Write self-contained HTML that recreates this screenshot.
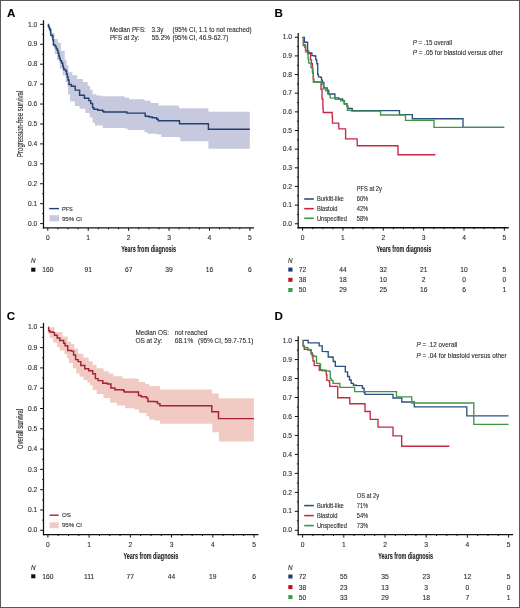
<!DOCTYPE html>
<html><head><meta charset="utf-8"><title>Kaplan-Meier curves</title>
<style>
html,body{margin:0;padding:0;background:#fff;}
body{width:520px;height:608px;position:relative;overflow:hidden;font-family:"Liberation Sans", sans-serif;}
</style></head><body>
<svg width="520" height="608" viewBox="0 0 520 608" font-family='"Liberation Sans", sans-serif' style="position:absolute;left:0;top:0;will-change:transform">
<style>text{stroke:#2a2a2a;stroke-width:0.1px;}</style>
<rect x="0" y="0" width="520" height="608" fill="#fff"/>
<text x="7.00" y="16.90" font-size="11.6" text-anchor="start" fill="#000" font-weight="bold" font-style="normal">A</text>
<text x="274.40" y="16.80" font-size="11.6" text-anchor="start" fill="#000" font-weight="bold" font-style="normal">B</text>
<text x="6.80" y="319.80" font-size="11.6" text-anchor="start" fill="#000" font-weight="bold" font-style="normal">C</text>
<text x="274.40" y="319.90" font-size="11.6" text-anchor="start" fill="#000" font-weight="bold" font-style="normal">D</text>
<polygon points="47.8,24.4 50.0,24.4 50.0,28.0 52.0,28.0 52.0,33.0 54.6,33.0 54.6,39.0 57.8,39.0 57.8,42.8 60.9,42.8 60.9,50.7 64.7,50.7 64.7,59.8 66.6,59.8 66.6,65.6 68.5,65.6 68.5,72.3 72.3,72.3 72.3,75.2 77.2,75.2 77.2,79.1 82.9,79.1 82.9,82.0 87.7,82.0 87.7,85.8 90.1,85.8 90.1,89.7 92.5,89.7 92.5,94.3 96.4,94.3 96.4,95.4 101.7,95.4 101.7,96.3 124.5,96.3 124.5,97.4 129.1,97.4 129.1,99.2 144.5,99.2 144.5,100.8 150.6,100.8 150.6,103.1 158.5,103.1 158.5,105.4 178.0,105.4 178.0,106.0 179.2,106.0 179.2,108.2 208.4,108.2 208.4,111.8 249.8,111.8 249.8,148.8 208.4,148.8 208.4,141.2 180.4,141.2 180.4,137.7 179.2,137.7 179.2,136.9 161.4,136.9 161.4,134.6 156.8,134.6 156.8,133.8 147.5,133.8 147.5,132.3 144.5,132.3 144.5,130.0 127.5,130.0 127.5,128.5 124.5,128.5 124.5,128.0 102.7,128.0 102.7,125.6 95.0,125.6 95.0,122.7 92.6,122.7 92.6,117.4 89.7,117.4 89.7,113.1 85.4,113.1 85.4,108.8 79.6,108.8 79.6,105.9 74.8,105.9 74.8,101.5 70.0,101.5 70.0,94.5 68.0,94.5 68.0,86.8 67.5,86.8 67.5,82.0 65.6,82.0 65.6,75.2 62.7,75.2 62.7,68.5 59.8,68.5 59.8,59.8 57.0,59.8 57.0,53.9 54.6,53.9 54.6,45.4 52.5,45.4 52.5,38.0 50.9,38.0 50.9,31.0 49.0,31.0 49.0,26.0 47.8,26.0" fill="#c7c9df"/>
<polygon points="48.2,327.3 54.5,327.3 54.5,332.0 62.4,332.0 62.4,336.6 67.7,336.6 67.7,341.8 71.0,341.8 71.0,343.8 74.3,343.8 74.3,348.4 78.2,348.4 78.2,353.7 83.5,353.7 83.5,357.6 88.7,357.6 88.7,361.3 92.7,361.3 92.7,365.0 96.6,365.0 96.6,368.2 103.5,368.2 103.5,371.2 108.8,371.2 108.8,373.5 113.6,373.5 113.6,376.2 122.3,376.2 122.3,378.4 137.8,378.4 137.8,379.3 139.1,379.3 139.1,382.0 145.2,382.0 145.2,384.0 149.2,384.0 149.2,386.0 159.9,386.0 159.9,389.5 211.6,389.5 211.6,390.3 212.3,390.3 212.3,393.5 218.1,393.5 218.1,394.6 218.8,394.6 218.8,398.2 253.9,398.2 253.9,441.6 219.1,441.6 218.8,432.2 212.3,432.2 212.3,423.7 211.6,423.7 159.9,423.7 159.9,420.5 154.1,420.5 154.1,419.6 149.2,419.6 149.2,416.2 146.5,416.2 146.5,412.9 139.1,412.9 139.1,409.5 134.4,409.5 134.4,408.2 125.0,408.2 125.0,405.5 116.9,405.5 116.9,402.8 110.2,402.8 110.2,398.1 103.5,398.1 103.5,394.0 96.7,394.0 96.7,390.0 92.7,390.0 92.7,385.5 90.0,385.5 90.0,382.5 87.4,382.5 87.4,380.0 83.5,380.0 83.5,376.7 79.5,376.7 79.5,373.4 76.2,373.4 76.2,368.2 72.9,368.2 72.9,362.9 69.0,362.9 69.0,358.3 67.0,358.3 67.0,354.3 64.4,354.3 64.4,350.4 59.8,350.4 59.8,347.1 57.2,347.1 57.2,342.5 53.2,342.5 53.2,337.9 49.9,337.9 49.9,334.0 48.4,334.0" fill="#f1cbc3"/>
<line x1="43.5" y1="20.2" x2="43.5" y2="228.5" stroke="#111" stroke-width="1.25"/>
<line x1="42.9" y1="227.8" x2="254.0" y2="227.8" stroke="#111" stroke-width="1.35"/>
<line x1="40.1" y1="223.60" x2="43.5" y2="223.60" stroke="#111" stroke-width="1"/>
<text x="37.30" y="225.75" font-size="6.7" text-anchor="end" fill="#2a2a2a" font-weight="normal" font-style="normal">0.0</text>
<line x1="42.2" y1="213.64" x2="43.5" y2="213.64" stroke="#111" stroke-width="1"/>
<line x1="40.1" y1="203.67" x2="43.5" y2="203.67" stroke="#111" stroke-width="1"/>
<text x="37.30" y="205.82" font-size="6.7" text-anchor="end" fill="#2a2a2a" font-weight="normal" font-style="normal">0.1</text>
<line x1="42.2" y1="193.71" x2="43.5" y2="193.71" stroke="#111" stroke-width="1"/>
<line x1="40.1" y1="183.75" x2="43.5" y2="183.75" stroke="#111" stroke-width="1"/>
<text x="37.30" y="185.90" font-size="6.7" text-anchor="end" fill="#2a2a2a" font-weight="normal" font-style="normal">0.2</text>
<line x1="42.2" y1="173.79" x2="43.5" y2="173.79" stroke="#111" stroke-width="1"/>
<line x1="40.1" y1="163.82" x2="43.5" y2="163.82" stroke="#111" stroke-width="1"/>
<text x="37.30" y="165.97" font-size="6.7" text-anchor="end" fill="#2a2a2a" font-weight="normal" font-style="normal">0.3</text>
<line x1="42.2" y1="153.86" x2="43.5" y2="153.86" stroke="#111" stroke-width="1"/>
<line x1="40.1" y1="143.90" x2="43.5" y2="143.90" stroke="#111" stroke-width="1"/>
<text x="37.30" y="146.05" font-size="6.7" text-anchor="end" fill="#2a2a2a" font-weight="normal" font-style="normal">0.4</text>
<line x1="42.2" y1="133.94" x2="43.5" y2="133.94" stroke="#111" stroke-width="1"/>
<line x1="40.1" y1="123.97" x2="43.5" y2="123.97" stroke="#111" stroke-width="1"/>
<text x="37.30" y="126.12" font-size="6.7" text-anchor="end" fill="#2a2a2a" font-weight="normal" font-style="normal">0.5</text>
<line x1="42.2" y1="114.01" x2="43.5" y2="114.01" stroke="#111" stroke-width="1"/>
<line x1="40.1" y1="104.05" x2="43.5" y2="104.05" stroke="#111" stroke-width="1"/>
<text x="37.30" y="106.20" font-size="6.7" text-anchor="end" fill="#2a2a2a" font-weight="normal" font-style="normal">0.6</text>
<line x1="42.2" y1="94.09" x2="43.5" y2="94.09" stroke="#111" stroke-width="1"/>
<line x1="40.1" y1="84.12" x2="43.5" y2="84.12" stroke="#111" stroke-width="1"/>
<text x="37.30" y="86.27" font-size="6.7" text-anchor="end" fill="#2a2a2a" font-weight="normal" font-style="normal">0.7</text>
<line x1="42.2" y1="74.16" x2="43.5" y2="74.16" stroke="#111" stroke-width="1"/>
<line x1="40.1" y1="64.20" x2="43.5" y2="64.20" stroke="#111" stroke-width="1"/>
<text x="37.30" y="66.35" font-size="6.7" text-anchor="end" fill="#2a2a2a" font-weight="normal" font-style="normal">0.8</text>
<line x1="42.2" y1="54.24" x2="43.5" y2="54.24" stroke="#111" stroke-width="1"/>
<line x1="40.1" y1="44.27" x2="43.5" y2="44.27" stroke="#111" stroke-width="1"/>
<text x="37.30" y="46.42" font-size="6.7" text-anchor="end" fill="#2a2a2a" font-weight="normal" font-style="normal">0.9</text>
<line x1="42.2" y1="34.31" x2="43.5" y2="34.31" stroke="#111" stroke-width="1"/>
<line x1="40.1" y1="24.35" x2="43.5" y2="24.35" stroke="#111" stroke-width="1"/>
<text x="37.30" y="26.50" font-size="6.7" text-anchor="end" fill="#2a2a2a" font-weight="normal" font-style="normal">1.0</text>
<line x1="47.80" y1="227.8" x2="47.80" y2="230.8" stroke="#111" stroke-width="1"/>
<text x="47.80" y="240.10" font-size="6.7" text-anchor="middle" fill="#2a2a2a" font-weight="normal" font-style="normal">0</text>
<line x1="57.91" y1="227.8" x2="57.91" y2="229.3" stroke="#111" stroke-width="1"/>
<line x1="68.01" y1="227.8" x2="68.01" y2="229.3" stroke="#111" stroke-width="1"/>
<line x1="78.11" y1="227.8" x2="78.11" y2="229.3" stroke="#111" stroke-width="1"/>
<line x1="88.22" y1="227.8" x2="88.22" y2="230.8" stroke="#111" stroke-width="1"/>
<text x="88.22" y="240.10" font-size="6.7" text-anchor="middle" fill="#2a2a2a" font-weight="normal" font-style="normal">1</text>
<line x1="98.33" y1="227.8" x2="98.33" y2="229.3" stroke="#111" stroke-width="1"/>
<line x1="108.43" y1="227.8" x2="108.43" y2="229.3" stroke="#111" stroke-width="1"/>
<line x1="118.53" y1="227.8" x2="118.53" y2="229.3" stroke="#111" stroke-width="1"/>
<line x1="128.64" y1="227.8" x2="128.64" y2="230.8" stroke="#111" stroke-width="1"/>
<text x="128.64" y="240.10" font-size="6.7" text-anchor="middle" fill="#2a2a2a" font-weight="normal" font-style="normal">2</text>
<line x1="138.75" y1="227.8" x2="138.75" y2="229.3" stroke="#111" stroke-width="1"/>
<line x1="148.85" y1="227.8" x2="148.85" y2="229.3" stroke="#111" stroke-width="1"/>
<line x1="158.95" y1="227.8" x2="158.95" y2="229.3" stroke="#111" stroke-width="1"/>
<line x1="169.06" y1="227.8" x2="169.06" y2="230.8" stroke="#111" stroke-width="1"/>
<text x="169.06" y="240.10" font-size="6.7" text-anchor="middle" fill="#2a2a2a" font-weight="normal" font-style="normal">3</text>
<line x1="179.17" y1="227.8" x2="179.17" y2="229.3" stroke="#111" stroke-width="1"/>
<line x1="189.27" y1="227.8" x2="189.27" y2="229.3" stroke="#111" stroke-width="1"/>
<line x1="199.38" y1="227.8" x2="199.38" y2="229.3" stroke="#111" stroke-width="1"/>
<line x1="209.48" y1="227.8" x2="209.48" y2="230.8" stroke="#111" stroke-width="1"/>
<text x="209.48" y="240.10" font-size="6.7" text-anchor="middle" fill="#2a2a2a" font-weight="normal" font-style="normal">4</text>
<line x1="219.58" y1="227.8" x2="219.58" y2="229.3" stroke="#111" stroke-width="1"/>
<line x1="229.69" y1="227.8" x2="229.69" y2="229.3" stroke="#111" stroke-width="1"/>
<line x1="239.80" y1="227.8" x2="239.80" y2="229.3" stroke="#111" stroke-width="1"/>
<line x1="249.90" y1="227.8" x2="249.90" y2="230.8" stroke="#111" stroke-width="1"/>
<text x="249.90" y="240.10" font-size="6.7" text-anchor="middle" fill="#2a2a2a" font-weight="normal" font-style="normal">5</text>
<line x1="298.2" y1="33.0" x2="298.2" y2="228.39999999999998" stroke="#111" stroke-width="1.25"/>
<line x1="297.59999999999997" y1="227.7" x2="508.7" y2="227.7" stroke="#111" stroke-width="1.35"/>
<line x1="294.8" y1="223.75" x2="298.2" y2="223.75" stroke="#111" stroke-width="1"/>
<text x="292.10" y="225.90" font-size="6.7" text-anchor="end" fill="#2a2a2a" font-weight="normal" font-style="normal">0.0</text>
<line x1="296.9" y1="214.43" x2="298.2" y2="214.43" stroke="#111" stroke-width="1"/>
<line x1="294.8" y1="205.10" x2="298.2" y2="205.10" stroke="#111" stroke-width="1"/>
<text x="292.10" y="207.25" font-size="6.7" text-anchor="end" fill="#2a2a2a" font-weight="normal" font-style="normal">0.1</text>
<line x1="296.9" y1="195.78" x2="298.2" y2="195.78" stroke="#111" stroke-width="1"/>
<line x1="294.8" y1="186.45" x2="298.2" y2="186.45" stroke="#111" stroke-width="1"/>
<text x="292.10" y="188.60" font-size="6.7" text-anchor="end" fill="#2a2a2a" font-weight="normal" font-style="normal">0.2</text>
<line x1="296.9" y1="177.12" x2="298.2" y2="177.12" stroke="#111" stroke-width="1"/>
<line x1="294.8" y1="167.80" x2="298.2" y2="167.80" stroke="#111" stroke-width="1"/>
<text x="292.10" y="169.95" font-size="6.7" text-anchor="end" fill="#2a2a2a" font-weight="normal" font-style="normal">0.3</text>
<line x1="296.9" y1="158.47" x2="298.2" y2="158.47" stroke="#111" stroke-width="1"/>
<line x1="294.8" y1="149.15" x2="298.2" y2="149.15" stroke="#111" stroke-width="1"/>
<text x="292.10" y="151.30" font-size="6.7" text-anchor="end" fill="#2a2a2a" font-weight="normal" font-style="normal">0.4</text>
<line x1="296.9" y1="139.82" x2="298.2" y2="139.82" stroke="#111" stroke-width="1"/>
<line x1="294.8" y1="130.50" x2="298.2" y2="130.50" stroke="#111" stroke-width="1"/>
<text x="292.10" y="132.65" font-size="6.7" text-anchor="end" fill="#2a2a2a" font-weight="normal" font-style="normal">0.5</text>
<line x1="296.9" y1="121.17" x2="298.2" y2="121.17" stroke="#111" stroke-width="1"/>
<line x1="294.8" y1="111.85" x2="298.2" y2="111.85" stroke="#111" stroke-width="1"/>
<text x="292.10" y="114.00" font-size="6.7" text-anchor="end" fill="#2a2a2a" font-weight="normal" font-style="normal">0.6</text>
<line x1="296.9" y1="102.52" x2="298.2" y2="102.52" stroke="#111" stroke-width="1"/>
<line x1="294.8" y1="93.20" x2="298.2" y2="93.20" stroke="#111" stroke-width="1"/>
<text x="292.10" y="95.35" font-size="6.7" text-anchor="end" fill="#2a2a2a" font-weight="normal" font-style="normal">0.7</text>
<line x1="296.9" y1="83.88" x2="298.2" y2="83.88" stroke="#111" stroke-width="1"/>
<line x1="294.8" y1="74.55" x2="298.2" y2="74.55" stroke="#111" stroke-width="1"/>
<text x="292.10" y="76.70" font-size="6.7" text-anchor="end" fill="#2a2a2a" font-weight="normal" font-style="normal">0.8</text>
<line x1="296.9" y1="65.22" x2="298.2" y2="65.22" stroke="#111" stroke-width="1"/>
<line x1="294.8" y1="55.90" x2="298.2" y2="55.90" stroke="#111" stroke-width="1"/>
<text x="292.10" y="58.05" font-size="6.7" text-anchor="end" fill="#2a2a2a" font-weight="normal" font-style="normal">0.9</text>
<line x1="296.9" y1="46.57" x2="298.2" y2="46.57" stroke="#111" stroke-width="1"/>
<line x1="294.8" y1="37.25" x2="298.2" y2="37.25" stroke="#111" stroke-width="1"/>
<text x="292.10" y="39.40" font-size="6.7" text-anchor="end" fill="#2a2a2a" font-weight="normal" font-style="normal">1.0</text>
<line x1="302.60" y1="227.7" x2="302.60" y2="230.7" stroke="#111" stroke-width="1"/>
<text x="302.60" y="240.00" font-size="6.7" text-anchor="middle" fill="#2a2a2a" font-weight="normal" font-style="normal">0</text>
<line x1="312.69" y1="227.7" x2="312.69" y2="229.2" stroke="#111" stroke-width="1"/>
<line x1="322.78" y1="227.7" x2="322.78" y2="229.2" stroke="#111" stroke-width="1"/>
<line x1="332.86" y1="227.7" x2="332.86" y2="229.2" stroke="#111" stroke-width="1"/>
<line x1="342.95" y1="227.7" x2="342.95" y2="230.7" stroke="#111" stroke-width="1"/>
<text x="342.95" y="240.00" font-size="6.7" text-anchor="middle" fill="#2a2a2a" font-weight="normal" font-style="normal">1</text>
<line x1="353.04" y1="227.7" x2="353.04" y2="229.2" stroke="#111" stroke-width="1"/>
<line x1="363.12" y1="227.7" x2="363.12" y2="229.2" stroke="#111" stroke-width="1"/>
<line x1="373.21" y1="227.7" x2="373.21" y2="229.2" stroke="#111" stroke-width="1"/>
<line x1="383.30" y1="227.7" x2="383.30" y2="230.7" stroke="#111" stroke-width="1"/>
<text x="383.30" y="240.00" font-size="6.7" text-anchor="middle" fill="#2a2a2a" font-weight="normal" font-style="normal">2</text>
<line x1="393.39" y1="227.7" x2="393.39" y2="229.2" stroke="#111" stroke-width="1"/>
<line x1="403.48" y1="227.7" x2="403.48" y2="229.2" stroke="#111" stroke-width="1"/>
<line x1="413.56" y1="227.7" x2="413.56" y2="229.2" stroke="#111" stroke-width="1"/>
<line x1="423.65" y1="227.7" x2="423.65" y2="230.7" stroke="#111" stroke-width="1"/>
<text x="423.65" y="240.00" font-size="6.7" text-anchor="middle" fill="#2a2a2a" font-weight="normal" font-style="normal">3</text>
<line x1="433.74" y1="227.7" x2="433.74" y2="229.2" stroke="#111" stroke-width="1"/>
<line x1="443.83" y1="227.7" x2="443.83" y2="229.2" stroke="#111" stroke-width="1"/>
<line x1="453.91" y1="227.7" x2="453.91" y2="229.2" stroke="#111" stroke-width="1"/>
<line x1="464.00" y1="227.7" x2="464.00" y2="230.7" stroke="#111" stroke-width="1"/>
<text x="464.00" y="240.00" font-size="6.7" text-anchor="middle" fill="#2a2a2a" font-weight="normal" font-style="normal">4</text>
<line x1="474.09" y1="227.7" x2="474.09" y2="229.2" stroke="#111" stroke-width="1"/>
<line x1="484.18" y1="227.7" x2="484.18" y2="229.2" stroke="#111" stroke-width="1"/>
<line x1="494.26" y1="227.7" x2="494.26" y2="229.2" stroke="#111" stroke-width="1"/>
<line x1="504.35" y1="227.7" x2="504.35" y2="230.7" stroke="#111" stroke-width="1"/>
<text x="504.35" y="240.00" font-size="6.7" text-anchor="middle" fill="#2a2a2a" font-weight="normal" font-style="normal">5</text>
<line x1="43.5" y1="322.8" x2="43.5" y2="535.25" stroke="#111" stroke-width="1.25"/>
<line x1="42.9" y1="534.55" x2="258.5" y2="534.55" stroke="#111" stroke-width="1.35"/>
<line x1="40.1" y1="530.30" x2="43.5" y2="530.30" stroke="#111" stroke-width="1"/>
<text x="37.30" y="532.45" font-size="6.7" text-anchor="end" fill="#2a2a2a" font-weight="normal" font-style="normal">0.0</text>
<line x1="42.2" y1="520.15" x2="43.5" y2="520.15" stroke="#111" stroke-width="1"/>
<line x1="40.1" y1="510.00" x2="43.5" y2="510.00" stroke="#111" stroke-width="1"/>
<text x="37.30" y="512.15" font-size="6.7" text-anchor="end" fill="#2a2a2a" font-weight="normal" font-style="normal">0.1</text>
<line x1="42.2" y1="499.85" x2="43.5" y2="499.85" stroke="#111" stroke-width="1"/>
<line x1="40.1" y1="489.70" x2="43.5" y2="489.70" stroke="#111" stroke-width="1"/>
<text x="37.30" y="491.85" font-size="6.7" text-anchor="end" fill="#2a2a2a" font-weight="normal" font-style="normal">0.2</text>
<line x1="42.2" y1="479.55" x2="43.5" y2="479.55" stroke="#111" stroke-width="1"/>
<line x1="40.1" y1="469.40" x2="43.5" y2="469.40" stroke="#111" stroke-width="1"/>
<text x="37.30" y="471.55" font-size="6.7" text-anchor="end" fill="#2a2a2a" font-weight="normal" font-style="normal">0.3</text>
<line x1="42.2" y1="459.25" x2="43.5" y2="459.25" stroke="#111" stroke-width="1"/>
<line x1="40.1" y1="449.10" x2="43.5" y2="449.10" stroke="#111" stroke-width="1"/>
<text x="37.30" y="451.25" font-size="6.7" text-anchor="end" fill="#2a2a2a" font-weight="normal" font-style="normal">0.4</text>
<line x1="42.2" y1="438.95" x2="43.5" y2="438.95" stroke="#111" stroke-width="1"/>
<line x1="40.1" y1="428.80" x2="43.5" y2="428.80" stroke="#111" stroke-width="1"/>
<text x="37.30" y="430.95" font-size="6.7" text-anchor="end" fill="#2a2a2a" font-weight="normal" font-style="normal">0.5</text>
<line x1="42.2" y1="418.65" x2="43.5" y2="418.65" stroke="#111" stroke-width="1"/>
<line x1="40.1" y1="408.50" x2="43.5" y2="408.50" stroke="#111" stroke-width="1"/>
<text x="37.30" y="410.65" font-size="6.7" text-anchor="end" fill="#2a2a2a" font-weight="normal" font-style="normal">0.6</text>
<line x1="42.2" y1="398.35" x2="43.5" y2="398.35" stroke="#111" stroke-width="1"/>
<line x1="40.1" y1="388.20" x2="43.5" y2="388.20" stroke="#111" stroke-width="1"/>
<text x="37.30" y="390.35" font-size="6.7" text-anchor="end" fill="#2a2a2a" font-weight="normal" font-style="normal">0.7</text>
<line x1="42.2" y1="378.05" x2="43.5" y2="378.05" stroke="#111" stroke-width="1"/>
<line x1="40.1" y1="367.90" x2="43.5" y2="367.90" stroke="#111" stroke-width="1"/>
<text x="37.30" y="370.05" font-size="6.7" text-anchor="end" fill="#2a2a2a" font-weight="normal" font-style="normal">0.8</text>
<line x1="42.2" y1="357.75" x2="43.5" y2="357.75" stroke="#111" stroke-width="1"/>
<line x1="40.1" y1="347.60" x2="43.5" y2="347.60" stroke="#111" stroke-width="1"/>
<text x="37.30" y="349.75" font-size="6.7" text-anchor="end" fill="#2a2a2a" font-weight="normal" font-style="normal">0.9</text>
<line x1="42.2" y1="337.45" x2="43.5" y2="337.45" stroke="#111" stroke-width="1"/>
<line x1="40.1" y1="327.30" x2="43.5" y2="327.30" stroke="#111" stroke-width="1"/>
<text x="37.30" y="329.45" font-size="6.7" text-anchor="end" fill="#2a2a2a" font-weight="normal" font-style="normal">1.0</text>
<line x1="47.90" y1="534.55" x2="47.90" y2="537.55" stroke="#111" stroke-width="1"/>
<text x="47.90" y="546.80" font-size="6.7" text-anchor="middle" fill="#2a2a2a" font-weight="normal" font-style="normal">0</text>
<line x1="58.20" y1="534.55" x2="58.20" y2="536.05" stroke="#111" stroke-width="1"/>
<line x1="68.51" y1="534.55" x2="68.51" y2="536.05" stroke="#111" stroke-width="1"/>
<line x1="78.81" y1="534.55" x2="78.81" y2="536.05" stroke="#111" stroke-width="1"/>
<line x1="89.12" y1="534.55" x2="89.12" y2="537.55" stroke="#111" stroke-width="1"/>
<text x="89.12" y="546.80" font-size="6.7" text-anchor="middle" fill="#2a2a2a" font-weight="normal" font-style="normal">1</text>
<line x1="99.42" y1="534.55" x2="99.42" y2="536.05" stroke="#111" stroke-width="1"/>
<line x1="109.73" y1="534.55" x2="109.73" y2="536.05" stroke="#111" stroke-width="1"/>
<line x1="120.03" y1="534.55" x2="120.03" y2="536.05" stroke="#111" stroke-width="1"/>
<line x1="130.34" y1="534.55" x2="130.34" y2="537.55" stroke="#111" stroke-width="1"/>
<text x="130.34" y="546.80" font-size="6.7" text-anchor="middle" fill="#2a2a2a" font-weight="normal" font-style="normal">2</text>
<line x1="140.65" y1="534.55" x2="140.65" y2="536.05" stroke="#111" stroke-width="1"/>
<line x1="150.95" y1="534.55" x2="150.95" y2="536.05" stroke="#111" stroke-width="1"/>
<line x1="161.25" y1="534.55" x2="161.25" y2="536.05" stroke="#111" stroke-width="1"/>
<line x1="171.56" y1="534.55" x2="171.56" y2="537.55" stroke="#111" stroke-width="1"/>
<text x="171.56" y="546.80" font-size="6.7" text-anchor="middle" fill="#2a2a2a" font-weight="normal" font-style="normal">3</text>
<line x1="181.87" y1="534.55" x2="181.87" y2="536.05" stroke="#111" stroke-width="1"/>
<line x1="192.17" y1="534.55" x2="192.17" y2="536.05" stroke="#111" stroke-width="1"/>
<line x1="202.47" y1="534.55" x2="202.47" y2="536.05" stroke="#111" stroke-width="1"/>
<line x1="212.78" y1="534.55" x2="212.78" y2="537.55" stroke="#111" stroke-width="1"/>
<text x="212.78" y="546.80" font-size="6.7" text-anchor="middle" fill="#2a2a2a" font-weight="normal" font-style="normal">4</text>
<line x1="223.09" y1="534.55" x2="223.09" y2="536.05" stroke="#111" stroke-width="1"/>
<line x1="233.39" y1="534.55" x2="233.39" y2="536.05" stroke="#111" stroke-width="1"/>
<line x1="243.69" y1="534.55" x2="243.69" y2="536.05" stroke="#111" stroke-width="1"/>
<line x1="254.00" y1="534.55" x2="254.00" y2="537.55" stroke="#111" stroke-width="1"/>
<text x="254.00" y="546.80" font-size="6.7" text-anchor="middle" fill="#2a2a2a" font-weight="normal" font-style="normal">5</text>
<line x1="298.2" y1="336.3" x2="298.2" y2="535.3000000000001" stroke="#111" stroke-width="1.25"/>
<line x1="297.59999999999997" y1="534.6" x2="513.1" y2="534.6" stroke="#111" stroke-width="1.35"/>
<line x1="294.8" y1="530.30" x2="298.2" y2="530.30" stroke="#111" stroke-width="1"/>
<text x="292.10" y="532.45" font-size="6.7" text-anchor="end" fill="#2a2a2a" font-weight="normal" font-style="normal">0.0</text>
<line x1="296.9" y1="520.81" x2="298.2" y2="520.81" stroke="#111" stroke-width="1"/>
<line x1="294.8" y1="511.33" x2="298.2" y2="511.33" stroke="#111" stroke-width="1"/>
<text x="292.10" y="513.48" font-size="6.7" text-anchor="end" fill="#2a2a2a" font-weight="normal" font-style="normal">0.1</text>
<line x1="296.9" y1="501.84" x2="298.2" y2="501.84" stroke="#111" stroke-width="1"/>
<line x1="294.8" y1="492.36" x2="298.2" y2="492.36" stroke="#111" stroke-width="1"/>
<text x="292.10" y="494.51" font-size="6.7" text-anchor="end" fill="#2a2a2a" font-weight="normal" font-style="normal">0.2</text>
<line x1="296.9" y1="482.87" x2="298.2" y2="482.87" stroke="#111" stroke-width="1"/>
<line x1="294.8" y1="473.39" x2="298.2" y2="473.39" stroke="#111" stroke-width="1"/>
<text x="292.10" y="475.54" font-size="6.7" text-anchor="end" fill="#2a2a2a" font-weight="normal" font-style="normal">0.3</text>
<line x1="296.9" y1="463.90" x2="298.2" y2="463.90" stroke="#111" stroke-width="1"/>
<line x1="294.8" y1="454.42" x2="298.2" y2="454.42" stroke="#111" stroke-width="1"/>
<text x="292.10" y="456.57" font-size="6.7" text-anchor="end" fill="#2a2a2a" font-weight="normal" font-style="normal">0.4</text>
<line x1="296.9" y1="444.93" x2="298.2" y2="444.93" stroke="#111" stroke-width="1"/>
<line x1="294.8" y1="435.45" x2="298.2" y2="435.45" stroke="#111" stroke-width="1"/>
<text x="292.10" y="437.60" font-size="6.7" text-anchor="end" fill="#2a2a2a" font-weight="normal" font-style="normal">0.5</text>
<line x1="296.9" y1="425.96" x2="298.2" y2="425.96" stroke="#111" stroke-width="1"/>
<line x1="294.8" y1="416.48" x2="298.2" y2="416.48" stroke="#111" stroke-width="1"/>
<text x="292.10" y="418.63" font-size="6.7" text-anchor="end" fill="#2a2a2a" font-weight="normal" font-style="normal">0.6</text>
<line x1="296.9" y1="406.99" x2="298.2" y2="406.99" stroke="#111" stroke-width="1"/>
<line x1="294.8" y1="397.51" x2="298.2" y2="397.51" stroke="#111" stroke-width="1"/>
<text x="292.10" y="399.66" font-size="6.7" text-anchor="end" fill="#2a2a2a" font-weight="normal" font-style="normal">0.7</text>
<line x1="296.9" y1="388.02" x2="298.2" y2="388.02" stroke="#111" stroke-width="1"/>
<line x1="294.8" y1="378.54" x2="298.2" y2="378.54" stroke="#111" stroke-width="1"/>
<text x="292.10" y="380.69" font-size="6.7" text-anchor="end" fill="#2a2a2a" font-weight="normal" font-style="normal">0.8</text>
<line x1="296.9" y1="369.05" x2="298.2" y2="369.05" stroke="#111" stroke-width="1"/>
<line x1="294.8" y1="359.57" x2="298.2" y2="359.57" stroke="#111" stroke-width="1"/>
<text x="292.10" y="361.72" font-size="6.7" text-anchor="end" fill="#2a2a2a" font-weight="normal" font-style="normal">0.9</text>
<line x1="296.9" y1="350.08" x2="298.2" y2="350.08" stroke="#111" stroke-width="1"/>
<line x1="294.8" y1="340.60" x2="298.2" y2="340.60" stroke="#111" stroke-width="1"/>
<text x="292.10" y="342.75" font-size="6.7" text-anchor="end" fill="#2a2a2a" font-weight="normal" font-style="normal">1.0</text>
<line x1="302.60" y1="534.6" x2="302.60" y2="537.6" stroke="#111" stroke-width="1"/>
<text x="302.60" y="546.90" font-size="6.7" text-anchor="middle" fill="#2a2a2a" font-weight="normal" font-style="normal">0</text>
<line x1="312.90" y1="534.6" x2="312.90" y2="536.1" stroke="#111" stroke-width="1"/>
<line x1="323.20" y1="534.6" x2="323.20" y2="536.1" stroke="#111" stroke-width="1"/>
<line x1="333.50" y1="534.6" x2="333.50" y2="536.1" stroke="#111" stroke-width="1"/>
<line x1="343.80" y1="534.6" x2="343.80" y2="537.6" stroke="#111" stroke-width="1"/>
<text x="343.80" y="546.90" font-size="6.7" text-anchor="middle" fill="#2a2a2a" font-weight="normal" font-style="normal">1</text>
<line x1="354.10" y1="534.6" x2="354.10" y2="536.1" stroke="#111" stroke-width="1"/>
<line x1="364.40" y1="534.6" x2="364.40" y2="536.1" stroke="#111" stroke-width="1"/>
<line x1="374.70" y1="534.6" x2="374.70" y2="536.1" stroke="#111" stroke-width="1"/>
<line x1="385.00" y1="534.6" x2="385.00" y2="537.6" stroke="#111" stroke-width="1"/>
<text x="385.00" y="546.90" font-size="6.7" text-anchor="middle" fill="#2a2a2a" font-weight="normal" font-style="normal">2</text>
<line x1="395.30" y1="534.6" x2="395.30" y2="536.1" stroke="#111" stroke-width="1"/>
<line x1="405.60" y1="534.6" x2="405.60" y2="536.1" stroke="#111" stroke-width="1"/>
<line x1="415.90" y1="534.6" x2="415.90" y2="536.1" stroke="#111" stroke-width="1"/>
<line x1="426.20" y1="534.6" x2="426.20" y2="537.6" stroke="#111" stroke-width="1"/>
<text x="426.20" y="546.90" font-size="6.7" text-anchor="middle" fill="#2a2a2a" font-weight="normal" font-style="normal">3</text>
<line x1="436.50" y1="534.6" x2="436.50" y2="536.1" stroke="#111" stroke-width="1"/>
<line x1="446.80" y1="534.6" x2="446.80" y2="536.1" stroke="#111" stroke-width="1"/>
<line x1="457.10" y1="534.6" x2="457.10" y2="536.1" stroke="#111" stroke-width="1"/>
<line x1="467.40" y1="534.6" x2="467.40" y2="537.6" stroke="#111" stroke-width="1"/>
<text x="467.40" y="546.90" font-size="6.7" text-anchor="middle" fill="#2a2a2a" font-weight="normal" font-style="normal">4</text>
<line x1="477.70" y1="534.6" x2="477.70" y2="536.1" stroke="#111" stroke-width="1"/>
<line x1="488.00" y1="534.6" x2="488.00" y2="536.1" stroke="#111" stroke-width="1"/>
<line x1="498.30" y1="534.6" x2="498.30" y2="536.1" stroke="#111" stroke-width="1"/>
<line x1="508.60" y1="534.6" x2="508.60" y2="537.6" stroke="#111" stroke-width="1"/>
<text x="508.60" y="546.90" font-size="6.7" text-anchor="middle" fill="#2a2a2a" font-weight="normal" font-style="normal">5</text>
<polyline points="47.8,24.4 48.4,24.4 48.4,26.2 49.0,26.2 49.0,27.8 49.6,27.8 49.6,29.3 50.3,29.3 50.3,30.8 50.6,30.8 50.6,33.0 50.9,35.3 52.3,35.3 52.3,35.9 52.9,35.9 52.9,40.0 53.5,40.0 53.5,44.9 55.1,44.9 55.1,46.5 56.2,46.5 56.2,48.5 57.2,48.5 57.2,50.2 58.0,50.2 58.0,53.0 58.8,53.0 58.8,56.0 59.5,56.0 59.5,58.5 60.3,58.5 60.3,60.8 61.5,60.8 61.5,63.0 62.7,63.0 62.7,65.6 63.2,65.6 63.2,67.5 63.7,67.5 63.7,69.5 65.6,69.5 65.6,70.9 66.6,70.9 66.6,74.3 67.3,74.3 67.3,77.0 68.0,77.0 68.0,80.0 69.0,80.0 69.0,84.4 71.4,84.4 71.4,86.3 75.2,86.3 75.2,90.1 79.6,90.1 79.6,95.3 84.4,95.3 84.4,98.2 88.8,98.2 88.8,100.6 90.7,100.6 90.7,103.5 92.6,103.5 92.6,107.8 94.0,107.8 94.0,109.2 97.9,109.2 97.9,110.2 102.7,110.2 102.7,111.2 103.7,111.2 103.7,112.0 124.5,112.0 126.8,112.0 126.8,113.1 142.9,113.1 145.2,113.1 145.2,116.2 149.1,116.2 149.1,116.9 152.2,116.9 152.2,117.7 156.8,117.7 156.8,119.2 158.3,119.2 158.3,120.8 179.5,120.8 179.5,123.8 208.4,123.8 208.4,129.2 249.8,129.2" fill="none" stroke="#23416f" stroke-width="1.45" stroke-linejoin="miter"/>
<polyline points="48.2,327.3 48.6,327.3 48.6,330.7 49.9,330.7 49.9,332.0 53.2,332.0 53.2,332.6 54.5,332.6 54.5,335.3 57.2,335.3 57.2,337.9 59.8,337.9 59.8,340.5 63.7,340.5 63.7,343.2 65.1,343.2 65.1,345.8 67.7,345.8 67.7,350.4 71.6,350.4 71.6,351.1 73.6,351.1 73.6,355.0 75.6,355.0 75.6,359.6 78.2,359.6 78.2,361.6 80.8,361.6 80.8,365.5 84.8,365.5 84.8,368.8 88.7,368.8 88.7,370.8 92.7,370.8 92.7,373.8 95.4,373.8 95.4,378.6 98.1,378.6 98.1,380.6 102.8,380.6 102.8,383.3 107.5,383.3 107.5,383.9 110.9,383.9 110.9,388.0 114.9,388.0 114.9,389.7 123.6,389.7 123.6,390.7 124.3,390.7 124.3,392.0 137.1,392.0 138.5,392.0 138.5,395.4 141.1,395.4 141.1,396.7 146.5,396.7 146.5,398.1 147.9,398.1 147.9,401.4 155.3,401.4 155.3,401.7 157.6,401.7 157.6,403.6 159.9,403.6 159.9,405.7 211.8,405.7 211.8,411.8 218.5,411.8 218.5,418.6 253.9,418.6" fill="none" stroke="#a3213a" stroke-width="1.45" stroke-linejoin="miter"/>
<polyline points="302.6,37.5 303.5,37.5 303.5,45.0 305.5,45.0 305.5,51.0 308.6,51.0 308.6,53.2 310.5,53.2 310.5,59.9 311.5,59.9 311.5,63.7 312.4,63.7 312.4,68.5 312.9,68.5 312.9,73.3 313.4,73.3 313.4,79.1 313.9,79.1 313.9,81.8 320.2,81.8 321.0,81.8 321.0,89.2 322.0,89.2 322.0,98.8 322.9,98.8 322.9,108.5 323.2,108.5 323.2,112.5 331.6,112.5 332.2,112.5 332.2,117.1 332.5,117.1 332.5,123.1 338.7,123.1 338.9,128.8 345.3,128.8 345.6,128.8 345.6,138.8 357.1,138.8 357.3,145.7 398.0,145.7 398.0,154.7 435.4,154.7" fill="none" stroke="#c42a43" stroke-width="1.35" stroke-linejoin="miter"/>
<polyline points="302.6,37.3 304.4,37.3 304.4,42.2 307.6,42.2 307.6,52.9 311.0,52.9 311.9,52.9 311.9,55.6 314.3,55.6 314.3,56.0 315.8,56.0 315.8,59.9 316.8,59.9 316.8,63.7 317.7,63.7 317.7,74.3 318.4,74.3 318.4,76.9 320.6,76.9 320.6,77.4 321.5,77.4 321.5,80.1 322.4,80.1 322.4,82.5 323.9,82.5 323.9,87.8 327.2,87.8 327.2,90.2 328.7,90.2 328.7,94.0 333.5,94.0 334.9,94.0 334.9,97.9 338.8,97.9 338.8,98.8 342.6,98.8 342.6,100.3 344.1,100.3 344.1,103.7 346.9,103.7 346.9,106.1 347.9,106.1 347.9,108.5 351.8,108.5 352.2,108.5 352.2,110.6 399.5,110.6 399.5,114.6 412.3,114.6 412.3,118.7 463.0,118.7 463.0,127.3 504.2,127.3" fill="none" stroke="#2e5080" stroke-width="1.35" stroke-linejoin="miter"/>
<polyline points="302.6,37.8 303.3,37.8 303.3,45.5 304.7,45.5 304.7,47.4 305.7,47.4 305.7,51.7 307.6,51.7 307.6,54.1 308.1,54.1 308.1,58.9 308.6,58.9 308.6,62.8 310.0,62.8 310.0,63.3 311.0,63.3 311.0,67.6 312.4,67.6 312.4,72.4 313.3,72.4 313.3,79.0 313.3,82.0 320.5,82.3 321.5,82.3 321.5,84.4 323.4,84.4 323.4,88.8 325.8,88.8 325.8,90.7 327.7,90.7 327.7,94.0 329.6,94.0 329.6,95.0 330.1,95.0 330.1,97.9 334.0,98.1 335.4,98.1 335.4,99.3 340.7,99.3 340.7,100.8 344.5,100.8 344.5,104.1 346.9,104.1 346.9,106.1 347.4,106.1 347.4,110.4 351.3,110.4 351.3,110.9 353.2,111.1 380.5,111.1 380.5,115.0 405.5,115.0 405.5,120.3 434.0,120.3 434.0,127.3 504.2,127.3" fill="none" stroke="#3f9646" stroke-width="1.35" stroke-linejoin="miter"/>
<polyline points="302.6,340.8 303.2,340.8 303.2,346.0 304.3,346.0 304.3,349.4 309.5,349.4 309.5,350.0 311.0,350.0 311.0,353.0 312.4,353.0 312.4,356.9 313.0,356.9 313.0,361.0 314.2,361.0 314.2,365.6 318.8,365.6 319.3,365.6 319.3,370.2 325.7,370.2 325.7,371.0 326.3,371.0 326.3,374.8 326.9,374.8 326.9,380.4 329.2,380.4 329.2,381.7 329.7,381.7 329.7,386.4 337.0,386.4 337.7,386.4 337.7,397.7 349.1,397.7 349.8,397.7 349.8,403.7 364.1,403.7 365.0,403.7 365.0,411.5 369.3,411.5 370.2,411.5 370.2,419.3 377.5,419.3 378.0,419.3 378.0,427.1 392.7,427.1 393.0,427.1 393.0,435.8 401.3,435.8 401.7,435.8 401.7,446.2 449.3,446.2" fill="none" stroke="#c42a43" stroke-width="1.35" stroke-linejoin="miter"/>
<polyline points="302.6,340.4 307.2,340.4 308.2,340.4 308.2,342.9 318.9,342.9 319.2,342.9 319.2,345.9 321.8,345.9 322.2,345.9 322.2,351.4 326.8,351.6 328.2,351.6 328.2,357.0 332.6,357.0 332.6,357.4 333.2,357.4 333.2,361.5 335.3,361.5 335.3,366.3 344.2,366.4 345.3,366.4 345.3,371.9 347.6,371.9 347.6,376.5 349.5,376.5 349.5,380.0 351.2,380.0 351.2,383.3 353.4,383.3 353.4,385.2 356.3,385.2 356.3,385.6 362.4,385.6 362.4,388.2 364.1,388.2 364.1,392.5 365.0,392.5 365.0,394.3 392.7,394.3 393.0,394.3 393.0,398.0 401.5,398.0 401.8,398.0 401.8,402.0 414.0,402.0 414.3,402.0 414.3,406.8 466.5,406.8 466.8,406.8 466.8,415.8 508.6,415.8" fill="none" stroke="#2e5080" stroke-width="1.35" stroke-linejoin="miter"/>
<polyline points="302.6,340.8 303.2,340.8 303.2,346.0 304.3,346.0 304.3,347.5 307.8,347.5 307.8,350.0 310.7,350.0 311.3,350.0 311.3,354.6 313.0,354.6 313.0,355.8 314.7,355.8 314.7,356.3 316.5,356.3 316.5,363.3 319.3,363.3 319.3,363.8 320.5,363.8 320.5,369.6 322.2,369.6 322.2,370.8 329.2,370.8 329.2,371.3 330.3,371.3 330.3,378.3 331.2,378.3 331.2,380.4 333.0,380.4 333.0,383.3 339.0,383.5 339.9,383.5 339.9,387.3 353.7,387.3 354.6,387.3 354.6,391.6 396.2,391.6 396.5,391.6 396.5,396.8 411.5,396.8 411.8,396.8 411.8,403.0 473.5,403.0 473.8,403.0 473.8,424.3 508.6,424.3" fill="none" stroke="#3f9646" stroke-width="1.35" stroke-linejoin="miter"/>
<text x="109.90" y="31.50" font-size="6.3" text-anchor="start" fill="#2a2a2a" font-weight="normal" font-style="normal" textLength="35.9" lengthAdjust="spacingAndGlyphs">Median PFS:</text>
<text x="151.40" y="31.50" font-size="6.3" text-anchor="start" fill="#2a2a2a" font-weight="normal" font-style="normal" textLength="11.9" lengthAdjust="spacingAndGlyphs">3.3y</text>
<text x="172.60" y="31.50" font-size="6.3" text-anchor="start" fill="#2a2a2a" font-weight="normal" font-style="normal" textLength="78.9" lengthAdjust="spacingAndGlyphs">(95% CI, 1.1 to not reached)</text>
<text x="109.90" y="39.70" font-size="6.3" text-anchor="start" fill="#2a2a2a" font-weight="normal" font-style="normal" textLength="29.4" lengthAdjust="spacingAndGlyphs">PFS at 2y:</text>
<text x="151.70" y="39.70" font-size="6.3" text-anchor="start" fill="#2a2a2a" font-weight="normal" font-style="normal" textLength="18.3" lengthAdjust="spacingAndGlyphs">55.2%</text>
<text x="172.40" y="39.70" font-size="6.3" text-anchor="start" fill="#2a2a2a" font-weight="normal" font-style="normal" textLength="55.9" lengthAdjust="spacingAndGlyphs">(95% CI, 46.9-62.7)</text>
<text x="135.40" y="334.70" font-size="6.5" text-anchor="start" fill="#2a2a2a" font-weight="normal" font-style="normal" textLength="33.6" lengthAdjust="spacingAndGlyphs">Median OS:</text>
<text x="174.80" y="334.70" font-size="6.5" text-anchor="start" fill="#2a2a2a" font-weight="normal" font-style="normal" textLength="32.7" lengthAdjust="spacingAndGlyphs">not reached</text>
<text x="135.40" y="342.50" font-size="6.5" text-anchor="start" fill="#2a2a2a" font-weight="normal" font-style="normal">OS at 2y:</text>
<text x="174.80" y="342.50" font-size="6.5" text-anchor="start" fill="#2a2a2a" font-weight="normal" font-style="normal">68.1%</text>
<text x="198.10" y="342.50" font-size="6.5" text-anchor="start" fill="#2a2a2a" font-weight="normal" font-style="normal" textLength="55.2" lengthAdjust="spacingAndGlyphs">(95% CI, 59.7-75.1)</text>
<text x="412.7" y="44.6" font-size="6.5" fill="#2a2a2a" textLength="39.4" lengthAdjust="spacingAndGlyphs"><tspan font-style="italic">P</tspan> = .15 overall</text>
<text x="412.7" y="55.2" font-size="6.5" fill="#2a2a2a" textLength="90.3" lengthAdjust="spacingAndGlyphs"><tspan font-style="italic">P</tspan> = .05 for blastoid versus other</text>
<text x="416.5" y="346.9" font-size="6.5" fill="#2a2a2a" textLength="40.8" lengthAdjust="spacingAndGlyphs"><tspan font-style="italic">P</tspan> = .12 overall</text>
<text x="416.5" y="357.5" font-size="6.5" fill="#2a2a2a" textLength="90.2" lengthAdjust="spacingAndGlyphs"><tspan font-style="italic">P</tspan> = .04 for blastoid versus other</text>
<line x1="49.2" y1="208.6" x2="59" y2="208.6" stroke="#23416f" stroke-width="1.4"/>
<text x="61.90" y="210.80" font-size="6.2" text-anchor="start" fill="#2a2a2a" font-weight="normal" font-style="normal" textLength="10.9" lengthAdjust="spacingAndGlyphs">PFS</text>
<rect x="49.5" y="215.2" width="9.5" height="6.1" fill="#c7c9df"/>
<text x="61.90" y="220.70" font-size="6.2" text-anchor="start" fill="#2a2a2a" font-weight="normal" font-style="normal" textLength="20.2" lengthAdjust="spacingAndGlyphs">95% CI</text>
<line x1="49.6" y1="515.2" x2="58.7" y2="515.2" stroke="#a3213a" stroke-width="1.4"/>
<text x="61.90" y="517.40" font-size="6.2" text-anchor="start" fill="#2a2a2a" font-weight="normal" font-style="normal">OS</text>
<rect x="49.6" y="522.3" width="9.1" height="5.9" fill="#f1cbc3"/>
<text x="61.90" y="527.40" font-size="6.2" text-anchor="start" fill="#2a2a2a" font-weight="normal" font-style="normal" textLength="20.2" lengthAdjust="spacingAndGlyphs">95% CI</text>
<text x="356.70" y="191.30" font-size="6.4" text-anchor="start" fill="#2a2a2a" font-weight="normal" font-style="normal" textLength="25.25" lengthAdjust="spacingAndGlyphs">PFS at 2y</text>
<line x1="304.2" y1="199.0" x2="313.8" y2="199.0" stroke="#2e5080" stroke-width="1.6"/>
<text x="316.90" y="201.30" font-size="6.4" text-anchor="start" fill="#2a2a2a" font-weight="normal" font-style="normal" textLength="26.84" lengthAdjust="spacingAndGlyphs">Burkitt-like</text>
<text x="356.70" y="201.30" font-size="6.4" text-anchor="start" fill="#2a2a2a" font-weight="normal" font-style="normal" textLength="11.5" lengthAdjust="spacingAndGlyphs">60%</text>
<line x1="304.2" y1="208.7" x2="313.8" y2="208.7" stroke="#c42a43" stroke-width="1.6"/>
<text x="316.90" y="211.00" font-size="6.4" text-anchor="start" fill="#2a2a2a" font-weight="normal" font-style="normal" textLength="20.46" lengthAdjust="spacingAndGlyphs">Blastoid</text>
<text x="356.70" y="211.00" font-size="6.4" text-anchor="start" fill="#2a2a2a" font-weight="normal" font-style="normal" textLength="11.5" lengthAdjust="spacingAndGlyphs">42%</text>
<line x1="304.2" y1="218.3" x2="313.8" y2="218.3" stroke="#3f9646" stroke-width="1.6"/>
<text x="316.90" y="220.60" font-size="6.4" text-anchor="start" fill="#2a2a2a" font-weight="normal" font-style="normal" textLength="30.04" lengthAdjust="spacingAndGlyphs">Unspecified</text>
<text x="356.70" y="220.60" font-size="6.4" text-anchor="start" fill="#2a2a2a" font-weight="normal" font-style="normal" textLength="11.5" lengthAdjust="spacingAndGlyphs">58%</text>
<text x="356.70" y="498.30" font-size="6.4" text-anchor="start" fill="#2a2a2a" font-weight="normal" font-style="normal" textLength="22.37" lengthAdjust="spacingAndGlyphs">OS at 2y</text>
<line x1="304.2" y1="505.6" x2="313.8" y2="505.6" stroke="#2e5080" stroke-width="1.6"/>
<text x="316.90" y="507.90" font-size="6.4" text-anchor="start" fill="#2a2a2a" font-weight="normal" font-style="normal" textLength="26.84" lengthAdjust="spacingAndGlyphs">Burkitt-like</text>
<text x="356.70" y="507.90" font-size="6.4" text-anchor="start" fill="#2a2a2a" font-weight="normal" font-style="normal" textLength="11.5" lengthAdjust="spacingAndGlyphs">71%</text>
<line x1="304.2" y1="515.6" x2="313.8" y2="515.6" stroke="#c42a43" stroke-width="1.6"/>
<text x="316.90" y="517.90" font-size="6.4" text-anchor="start" fill="#2a2a2a" font-weight="normal" font-style="normal" textLength="20.46" lengthAdjust="spacingAndGlyphs">Blastoid</text>
<text x="356.70" y="517.90" font-size="6.4" text-anchor="start" fill="#2a2a2a" font-weight="normal" font-style="normal" textLength="11.5" lengthAdjust="spacingAndGlyphs">54%</text>
<line x1="304.2" y1="525.6" x2="313.8" y2="525.6" stroke="#3f9646" stroke-width="1.6"/>
<text x="316.90" y="527.90" font-size="6.4" text-anchor="start" fill="#2a2a2a" font-weight="normal" font-style="normal" textLength="30.04" lengthAdjust="spacingAndGlyphs">Unspecified</text>
<text x="356.70" y="527.90" font-size="6.4" text-anchor="start" fill="#2a2a2a" font-weight="normal" font-style="normal" textLength="11.5" lengthAdjust="spacingAndGlyphs">73%</text>
<text transform="translate(22.6,123.9) rotate(-90)" font-size="8.2" text-anchor="middle" fill="#2a2a2a" textLength="66" lengthAdjust="spacingAndGlyphs">Progression-free survival</text>
<text transform="translate(22.8,428.9) rotate(-90)" font-size="8.2" text-anchor="middle" fill="#2a2a2a" textLength="40" lengthAdjust="spacingAndGlyphs">Overall survival</text>
<text x="121.2" y="251.8" font-size="8.9" fill="#1a1a1a" textLength="54.8" lengthAdjust="spacingAndGlyphs" font-weight="bold">Years from diagnosis</text>
<text x="376.4" y="251.8" font-size="8.9" fill="#1a1a1a" textLength="54.8" lengthAdjust="spacingAndGlyphs" font-weight="bold">Years from diagnosis</text>
<text x="123.5" y="558.6" font-size="8.9" fill="#1a1a1a" textLength="54.8" lengthAdjust="spacingAndGlyphs" font-weight="bold">Years from diagnosis</text>
<text x="378.3" y="558.6" font-size="8.9" fill="#1a1a1a" textLength="54.8" lengthAdjust="spacingAndGlyphs" font-weight="bold">Years from diagnosis</text>
<text x="31.00" y="263.40" font-size="6.3" text-anchor="start" fill="#2a2a2a" font-weight="normal" font-style="italic">N</text>
<rect x="31.2" y="267.7" width="4.2" height="4.0" fill="#111"/>
<text x="47.80" y="272.10" font-size="6.7" text-anchor="middle" fill="#2a2a2a" font-weight="normal" font-style="normal">160</text>
<text x="88.22" y="272.10" font-size="6.7" text-anchor="middle" fill="#2a2a2a" font-weight="normal" font-style="normal">91</text>
<text x="128.64" y="272.10" font-size="6.7" text-anchor="middle" fill="#2a2a2a" font-weight="normal" font-style="normal">67</text>
<text x="169.06" y="272.10" font-size="6.7" text-anchor="middle" fill="#2a2a2a" font-weight="normal" font-style="normal">39</text>
<text x="209.48" y="272.10" font-size="6.7" text-anchor="middle" fill="#2a2a2a" font-weight="normal" font-style="normal">16</text>
<text x="249.90" y="272.10" font-size="6.7" text-anchor="middle" fill="#2a2a2a" font-weight="normal" font-style="normal">6</text>
<text x="288.10" y="263.20" font-size="6.3" text-anchor="start" fill="#2a2a2a" font-weight="normal" font-style="italic">N</text>
<rect x="288.3" y="267.6" width="4.2" height="4.0" fill="#1d3f78"/>
<text x="302.60" y="272.00" font-size="6.7" text-anchor="middle" fill="#2a2a2a" font-weight="normal" font-style="normal">72</text>
<text x="342.95" y="272.00" font-size="6.7" text-anchor="middle" fill="#2a2a2a" font-weight="normal" font-style="normal">44</text>
<text x="383.30" y="272.00" font-size="6.7" text-anchor="middle" fill="#2a2a2a" font-weight="normal" font-style="normal">32</text>
<text x="423.65" y="272.00" font-size="6.7" text-anchor="middle" fill="#2a2a2a" font-weight="normal" font-style="normal">21</text>
<text x="464.00" y="272.00" font-size="6.7" text-anchor="middle" fill="#2a2a2a" font-weight="normal" font-style="normal">10</text>
<text x="504.35" y="272.00" font-size="6.7" text-anchor="middle" fill="#2a2a2a" font-weight="normal" font-style="normal">5</text>
<rect x="288.3" y="277.8" width="4.2" height="4.0" fill="#b8102a"/>
<text x="302.60" y="282.20" font-size="6.7" text-anchor="middle" fill="#2a2a2a" font-weight="normal" font-style="normal">38</text>
<text x="342.95" y="282.20" font-size="6.7" text-anchor="middle" fill="#2a2a2a" font-weight="normal" font-style="normal">18</text>
<text x="383.30" y="282.20" font-size="6.7" text-anchor="middle" fill="#2a2a2a" font-weight="normal" font-style="normal">10</text>
<text x="423.65" y="282.20" font-size="6.7" text-anchor="middle" fill="#2a2a2a" font-weight="normal" font-style="normal">2</text>
<text x="464.00" y="282.20" font-size="6.7" text-anchor="middle" fill="#2a2a2a" font-weight="normal" font-style="normal">0</text>
<text x="504.35" y="282.20" font-size="6.7" text-anchor="middle" fill="#2a2a2a" font-weight="normal" font-style="normal">0</text>
<rect x="288.3" y="288.0" width="4.2" height="4.0" fill="#3f9a44"/>
<text x="302.60" y="292.40" font-size="6.7" text-anchor="middle" fill="#2a2a2a" font-weight="normal" font-style="normal">50</text>
<text x="342.95" y="292.40" font-size="6.7" text-anchor="middle" fill="#2a2a2a" font-weight="normal" font-style="normal">29</text>
<text x="383.30" y="292.40" font-size="6.7" text-anchor="middle" fill="#2a2a2a" font-weight="normal" font-style="normal">25</text>
<text x="423.65" y="292.40" font-size="6.7" text-anchor="middle" fill="#2a2a2a" font-weight="normal" font-style="normal">16</text>
<text x="464.00" y="292.40" font-size="6.7" text-anchor="middle" fill="#2a2a2a" font-weight="normal" font-style="normal">6</text>
<text x="504.35" y="292.40" font-size="6.7" text-anchor="middle" fill="#2a2a2a" font-weight="normal" font-style="normal">1</text>
<text x="31.00" y="570.10" font-size="6.3" text-anchor="start" fill="#2a2a2a" font-weight="normal" font-style="italic">N</text>
<rect x="31.2" y="574.3" width="4.2" height="4.0" fill="#111"/>
<text x="47.90" y="578.70" font-size="6.7" text-anchor="middle" fill="#2a2a2a" font-weight="normal" font-style="normal">160</text>
<text x="89.12" y="578.70" font-size="6.7" text-anchor="middle" fill="#2a2a2a" font-weight="normal" font-style="normal">111</text>
<text x="130.34" y="578.70" font-size="6.7" text-anchor="middle" fill="#2a2a2a" font-weight="normal" font-style="normal">77</text>
<text x="171.56" y="578.70" font-size="6.7" text-anchor="middle" fill="#2a2a2a" font-weight="normal" font-style="normal">44</text>
<text x="212.78" y="578.70" font-size="6.7" text-anchor="middle" fill="#2a2a2a" font-weight="normal" font-style="normal">19</text>
<text x="254.00" y="578.70" font-size="6.7" text-anchor="middle" fill="#2a2a2a" font-weight="normal" font-style="normal">6</text>
<text x="288.10" y="569.90" font-size="6.3" text-anchor="start" fill="#2a2a2a" font-weight="normal" font-style="italic">N</text>
<rect x="288.3" y="574.5" width="4.2" height="4.0" fill="#1d3f78"/>
<text x="302.60" y="578.90" font-size="6.7" text-anchor="middle" fill="#2a2a2a" font-weight="normal" font-style="normal">72</text>
<text x="343.80" y="578.90" font-size="6.7" text-anchor="middle" fill="#2a2a2a" font-weight="normal" font-style="normal">55</text>
<text x="385.00" y="578.90" font-size="6.7" text-anchor="middle" fill="#2a2a2a" font-weight="normal" font-style="normal">35</text>
<text x="426.20" y="578.90" font-size="6.7" text-anchor="middle" fill="#2a2a2a" font-weight="normal" font-style="normal">23</text>
<text x="467.40" y="578.90" font-size="6.7" text-anchor="middle" fill="#2a2a2a" font-weight="normal" font-style="normal">12</text>
<text x="508.60" y="578.90" font-size="6.7" text-anchor="middle" fill="#2a2a2a" font-weight="normal" font-style="normal">5</text>
<rect x="288.3" y="585.1" width="4.2" height="4.0" fill="#b8102a"/>
<text x="302.60" y="589.50" font-size="6.7" text-anchor="middle" fill="#2a2a2a" font-weight="normal" font-style="normal">38</text>
<text x="343.80" y="589.50" font-size="6.7" text-anchor="middle" fill="#2a2a2a" font-weight="normal" font-style="normal">23</text>
<text x="385.00" y="589.50" font-size="6.7" text-anchor="middle" fill="#2a2a2a" font-weight="normal" font-style="normal">13</text>
<text x="426.20" y="589.50" font-size="6.7" text-anchor="middle" fill="#2a2a2a" font-weight="normal" font-style="normal">3</text>
<text x="467.40" y="589.50" font-size="6.7" text-anchor="middle" fill="#2a2a2a" font-weight="normal" font-style="normal">0</text>
<text x="508.60" y="589.50" font-size="6.7" text-anchor="middle" fill="#2a2a2a" font-weight="normal" font-style="normal">0</text>
<rect x="288.3" y="595.1" width="4.2" height="4.0" fill="#3f9a44"/>
<text x="302.60" y="599.50" font-size="6.7" text-anchor="middle" fill="#2a2a2a" font-weight="normal" font-style="normal">50</text>
<text x="343.80" y="599.50" font-size="6.7" text-anchor="middle" fill="#2a2a2a" font-weight="normal" font-style="normal">33</text>
<text x="385.00" y="599.50" font-size="6.7" text-anchor="middle" fill="#2a2a2a" font-weight="normal" font-style="normal">29</text>
<text x="426.20" y="599.50" font-size="6.7" text-anchor="middle" fill="#2a2a2a" font-weight="normal" font-style="normal">18</text>
<text x="467.40" y="599.50" font-size="6.7" text-anchor="middle" fill="#2a2a2a" font-weight="normal" font-style="normal">7</text>
<text x="508.60" y="599.50" font-size="6.7" text-anchor="middle" fill="#2a2a2a" font-weight="normal" font-style="normal">1</text>
<rect x="0.5" y="0.5" width="519" height="607" fill="none" stroke="#585858" stroke-width="1"/>
</svg>
</body></html>
